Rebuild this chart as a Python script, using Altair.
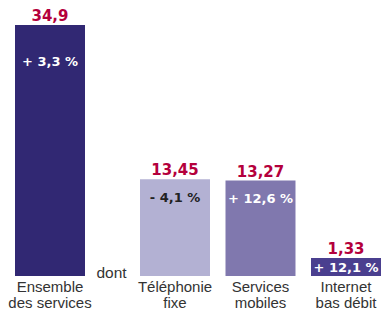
import altair as alt
import pandas as pd

categories = ["Ensemble\ndes services", "Téléphonie\nfixe", "Services\nmobiles", "Internet\nbas débit"]
values = [34.9, 13.45, 13.27, 1.33]
value_labels = ["34,9", "13,45", "13,27", "1,33"]
change_labels = ["+ 3,3 %", "- 4,1 %", "+ 12,6 %", "+ 12,1 %"]

bar_colors = ["#312873", "#b3b1d3", "#8078ae", "#4a3f8f"]
change_colors = ["#ffffff", "#222222", "#ffffff", "#ffffff"]
RED = "#b4003c"
TXT = "#333333"
BOLD_FONT = "DejaVu Sans"
FONT = "Liberation Sans"
H = 267
YMAX = 37.12
MIN_BAR = 2.5  # minimum visual height (data units) so the label fits

df = pd.DataFrame({
    "cat": categories,
    "value": values,
    "vlabel": value_labels,
    "clabel": change_labels,
    "bcol": bar_colors,
    "tcol": change_colors,
})

yscale = alt.Scale(domain=[0, YMAX], nice=False, zero=True)


def panel(data, width, pad_inner, first):
    x = alt.X("cat:N", sort=data["cat"].tolist(), axis=None,
              scale=alt.Scale(paddingInner=pad_inner, paddingOuter=0))
    base = alt.Chart(data).transform_calculate(
        top=f"max(datum.value, {MIN_BAR})"
    ).transform_calculate(
        ly="max(datum.top - 3.11, datum.top * 0.2)"
    )
    bars = base.mark_bar(cornerRadius=0).encode(
        x=x, y=alt.Y("top:Q", scale=yscale, axis=None),
        color=alt.Color("bcol:N", scale=None)
    )
    vals = base.mark_text(font=BOLD_FONT, fontWeight="bold", fontSize=15, color=RED,
                          baseline="alphabetic", dy=-4).encode(
        x=x, y=alt.Y("top:Q", scale=yscale), text="vlabel:N"
    )
    if first:
        chg = base.mark_text(font=BOLD_FONT, fontWeight="bold", fontSize=13,
                             baseline="alphabetic", dy=41).encode(
            x=x, y=alt.Y("top:Q", scale=yscale), text="clabel:N",
            color=alt.Color("tcol:N", scale=None)
        )
    else:
        chg = base.mark_text(font=BOLD_FONT, fontWeight="bold", fontSize=13,
                             baseline="alphabetic").encode(
            x=x, y=alt.Y("ly:Q", scale=yscale), text="clabel:N",
            color=alt.Color("tcol:N", scale=None)
        )
    cats = base.mark_text(font=FONT, fontSize=15, color=TXT, baseline="alphabetic",
                          lineBreak="\n", lineHeight=16).encode(
        x=x, y=alt.value(H + 16), text="cat:N"
    )
    return alt.layer(bars, vals, chg, cats).properties(width=width, height=H)


left = panel(df.iloc[:1], 70, 0, True)
right = panel(df.iloc[1:], 241, 0.1813, False)

dont = alt.Chart(pd.DataFrame({"t": ["dont"]})).mark_text(
    font=FONT, fontSize=15.5, color=TXT, baseline="alphabetic", align="center"
).encode(x=alt.value(-28.5), y=alt.value(H + 2), text="t:N")

right = alt.layer(right, dont)

chart = alt.hconcat(left, right, spacing=55, bounds="flush").properties(
    padding=0
).configure_view(stroke=None)

chart.save("out.html", embed_options={"renderer": "svg", "actions": False})
